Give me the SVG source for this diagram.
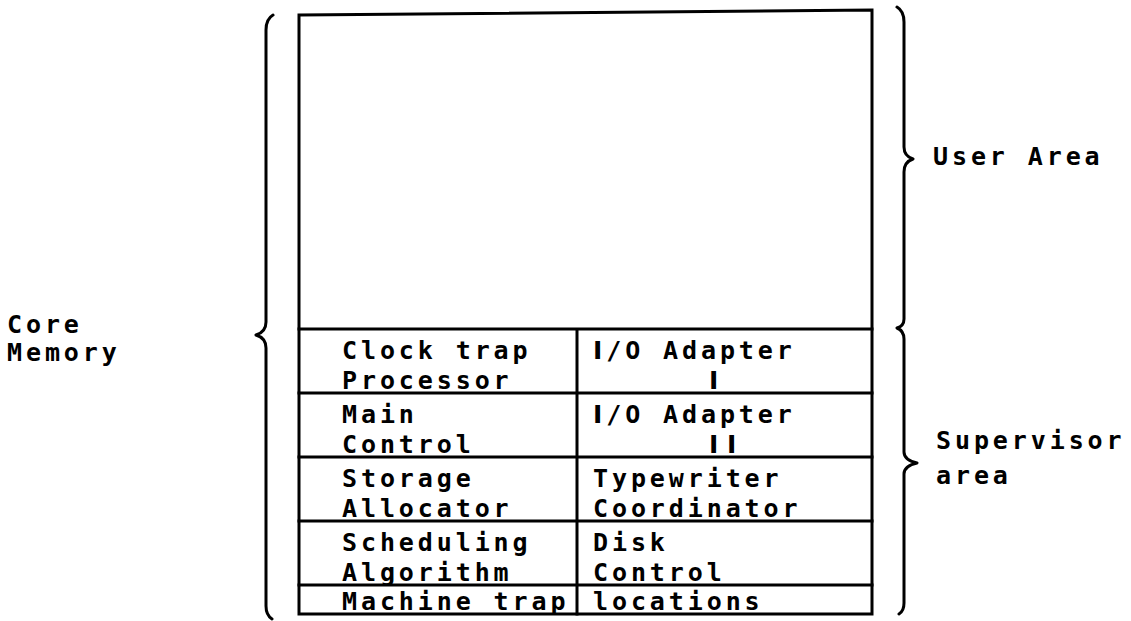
<svg xmlns="http://www.w3.org/2000/svg" width="1131" height="621" viewBox="0 0 1131 621">
<style>
  .ln { stroke: #000; stroke-width: 3; fill: none; stroke-linecap: square; }
  .br { stroke: #000; stroke-width: 3; fill: none; stroke-linecap: round; stroke-linejoin: round; }
  .t { font-family: "DejaVu Sans Mono", "Liberation Mono", monospace; font-weight: bold; font-size: 25px; letter-spacing: 3.9px; fill: #000; }
  .s { font-family: "DejaVu Sans", "Liberation Sans", sans-serif; font-weight: bold; font-size: 25px; fill: #000; }
</style>
<rect x="0" y="0" width="1131" height="621" fill="#fff"/>
<g id="core-memory">
  <path class="ln" d="M299,15 L872,10 L872,614 L299,614 Z"/>
  <path class="ln" d="M299,329 H872 M299,393 H872 M299,457 H872 M299,521 H872 M299,585 H872 M577,329 V614"/>
</g>
<g id="user-area"></g>
<g id="clock-trap-processor"><text class="t" x="342" y="359">Clock trap</text><text class="t" x="342" y="389">Processor</text></g>
<g id="io-adapter-1"><text class="t" x="593" y="359"><tspan class="s">I</tspan>/O Adapter</text><text class="s" x="709" y="389">I</text></g>
<g id="main-control"><text class="t" x="342" y="423">Main</text><text class="t" x="342" y="453">Control</text></g>
<g id="io-adapter-2"><text class="t" x="593" y="423"><tspan class="s">I</tspan>/O Adapter</text><text class="s" x="709 727" y="453">II</text></g>
<g id="storage-allocator"><text class="t" x="342" y="487">Storage</text><text class="t" x="342" y="517">Allocator</text></g>
<g id="typewriter-coordinator"><text class="t" x="593" y="487">Typewriter</text><text class="t" x="593" y="517">Coordinator</text></g>
<g id="scheduling-algorithm"><text class="t" x="342" y="551">Scheduling</text><text class="t" x="342" y="581">Algorithm</text></g>
<g id="disk-control"><text class="t" x="593" y="551">Disk</text><text class="t" x="593" y="581">Control</text></g>
<g id="machine-trap-locations"><text class="t" x="342" y="610">Machine trap</text><text class="t" x="593" y="610">locations</text></g>
<g id="connectors">
  <path class="br" d="M273,15 Q266,19 266,30 L266,322 Q266,332 256,335 Q266,338 266,348 L266,606 Q266,615 272,619"/>
  <path class="br" d="M897,7 Q904,11 904,22 L904,147 Q904,156 913,159 Q904,162 904,172 L904,319 Q904,326 897,328 Q904,331 904,339 L904,452 Q904,460 917,463 Q904,466 904,474 L904,603 Q904,611 899,614"/>
</g>
<g id="labels">
  <text class="t" x="933" y="165"><tspan>User Area</tspan></text>
  <text class="t" x="936" y="449">Supervisor</text>
  <text class="t" x="936" y="484">area</text>
  <text class="t" x="7" y="333">Core</text>
  <text class="t" x="7" y="361">Memory</text>
</g>
</svg>
